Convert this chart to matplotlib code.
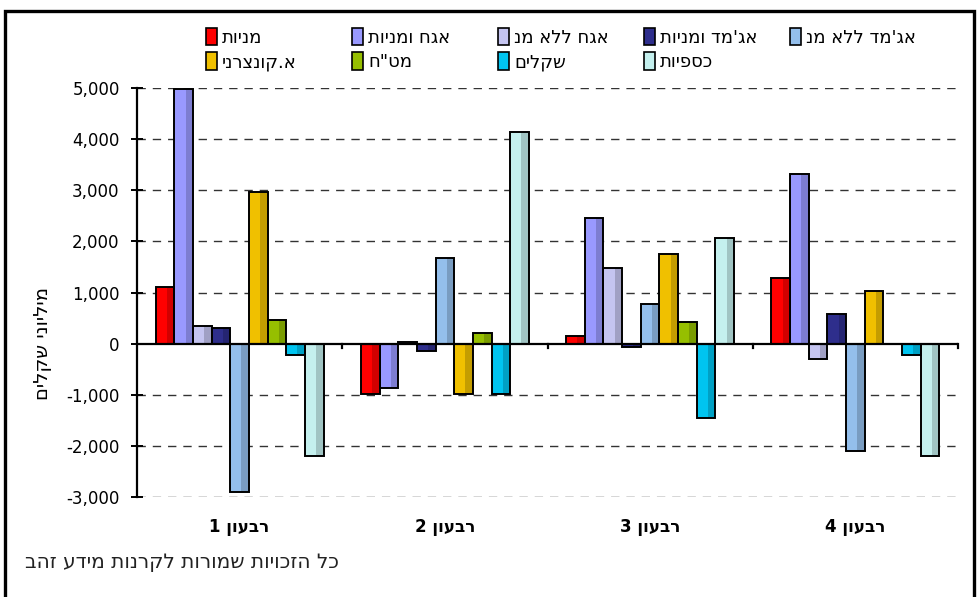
import numpy as np
import matplotlib
matplotlib.use("Agg")
import matplotlib.pyplot as plt
from matplotlib.patches import Patch, Rectangle
from matplotlib.transforms import blended_transform_factory
from matplotlib.ticker import FuncFormatter

# ---------------------------------------------------------
# DATA (millions of shekels, per quarter)
# ---------------------------------------------------------

quarters = ["רבעון 1", "רבעון 2", "רבעון 3", "רבעון 4"]

series_names = [
    "מניות",
    "אגח ומניות",
    "אגח ללא מנ",
    "אג'מד ומניות",
    "אג'מד ללא מנ",
    "א.קונצרני",
    'מט"ח',
    "שקלים",
    "כספיות",
]

stocks         = [1100, -980, 150, 1290]
bonds_stocks   = [4990, -870, 2460, 3320]
bonds_no_stk   = [340, 30, 1480, -310]
govt_stocks    = [300, -150, -70, 580]
govt_no_stk    = [-2900, 1680, 780, -2100]
corporate      = [2970, -980, 1760, 1020]
forex          = [470, 200, 430, 0]
shekel         = [-230, -980, -1450, -230]
money_market   = [-2200, 4140, 2070, -2190]

all_series = [stocks, bonds_stocks, bonds_no_stk, govt_stocks, govt_no_stk,
              corporate, forex, shekel, money_market]

colors = ["#FF0000", "#9999FF", "#C4C4F0", "#2E2E8C", "#94BFEC",
          "#F0C000", "#96BF00", "#00C4F0", "#C4F0EE"]

y_label = "מיליוני שקלים"
footnote = "כל הזכויות שמורות לקרנות מידע זהב"


def vis(s):
    # matplotlib has no bidi support: give Hebrew in visual order
    out = []
    for word in s.split(" ")[::-1]:
        if any("\u0590" <= c <= "\u05ff" for c in word):
            out.append(word[::-1])
        else:
            out.append(word)
    return " ".join(out)


# ---------------------------------------------------------
# FIGURE
# ---------------------------------------------------------

W, H = 979, 597
fig = plt.figure(figsize=(W / 100, H / 100), dpi=100)
ax = fig.add_axes([137 / W, 1 - 497 / H, (958 - 137) / W, (497 - 88) / H])

n = len(all_series)
slot = 1.0 / (n + 2)
x = np.arange(len(quarters))

for j, (vals, col) in enumerate(zip(all_series, colors)):
    pos = x + slot * (j + 1.5)
    ax.bar(pos, vals, width=slot, color=col, edgecolor="none", zorder=3)
    # darker band on the right, like the excel gradient fill
    ax.bar(pos + slot * 0.3, vals, width=slot * 0.4, color="black",
           alpha=0.18, edgecolor="none", zorder=3.2)
    ax.bar(pos, vals, width=slot, fill=False, edgecolor="black",
           linewidth=1.4, zorder=3.4)

ax.set_xlim(0, len(quarters))
ax.set_ylim(-3000, 5000)
ax.set_yticks(np.arange(-3000, 5001, 1000))
ax.yaxis.set_major_formatter(FuncFormatter(lambda v, p: f"{int(v):,}"))

for v in np.arange(-3000, 5001, 1000):
    if v != 0:
        ax.axhline(v, color="#333333", linewidth=1, dashes=(6, 5), zorder=1)
ax.axhline(0, color="black", linewidth=1.6, zorder=4)

for s in ["top", "right", "bottom"]:
    ax.spines[s].set_visible(False)
ax.spines["left"].set_linewidth(1.6)

ax.set_xticks([])
tr = blended_transform_factory(ax.transData, ax.transAxes)
for b in range(1, len(quarters) + 1):
    ax.plot([b, b], [0, -90], color="black", linewidth=1.6, zorder=4,
            clip_on=False)

for i, q in enumerate(quarters):
    ax.text(i + 0.5, -0.073, vis(q), transform=tr, ha="center", va="center",
            fontsize=12, fontweight="bold", family="DejaVu Sans")

ax.tick_params(axis="y", direction="inout", length=9, width=1.4,
               labelsize=12, pad=8)
for lab in ax.get_yticklabels():
    lab.set_family("DejaVu Sans")

fig.text(42 / W, 1 - 343 / H, vis(y_label), rotation=90, ha="center",
         va="center", fontsize=14, family="DejaVu Sans")

fig.text(25 / W, 1 - 563 / H, vis(footnote), ha="left", va="center",
         fontsize=14.5, family="DejaVu Sans", color="#222222")

# legend: 5 equal columns, filled row by row
handles = [Patch(facecolor=c, edgecolor="black", linewidth=1.2) for c in colors]
col_x = [206, 352, 498, 644, 790]
for c in range(5):
    idx = [k for k in (c, c + 5) if k < n]
    fig.legend([handles[k] for k in idx], [vis(series_names[k]) for k in idx],
               loc="upper left", bbox_to_anchor=(col_x[c] / W, 1 - 28 / H),
               frameon=False, handlelength=0.6, handleheight=1.1,
               handletextpad=0.3, labelspacing=0.3, borderpad=0,
               borderaxespad=0, prop={"family": "DejaVu Sans", "size": 13})

# outer frame
fig.patches.append(Rectangle((5 / W, -0.1), (974 - 5) / W, 1.1 - 11 / H,
                             transform=fig.transFigure, fill=False,
                             edgecolor="black", linewidth=2.4))

fig.savefig("out.png", dpi=100)
